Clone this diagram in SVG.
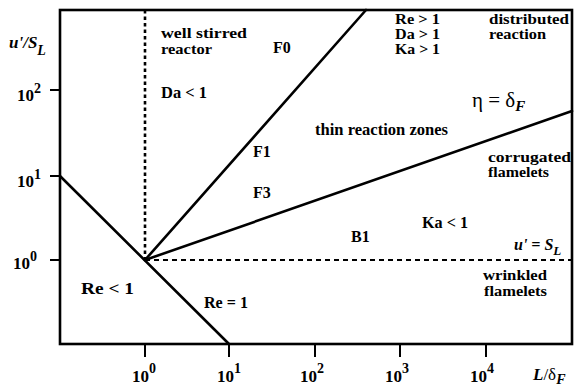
<svg xmlns="http://www.w3.org/2000/svg" width="579" height="386" viewBox="0 0 579 386">
<style>
.t{font-family:"Liberation Serif","Times New Roman",serif;font-weight:bold;font-size:16px;fill:#000}
.s{font-size:14.5px}
.ax{font-family:"Liberation Serif","Times New Roman",serif;font-weight:bold;font-size:17px;fill:#000}
.sup{font-size:14px}
.it{font-style:italic}
.ln{stroke:#000;stroke-width:2.6;fill:none;stroke-linecap:round}
.tk{stroke:#000;stroke-width:2;fill:none}
</style>
<rect width="579" height="386" fill="#fff"/>
<g id="frame">
<rect x="60" y="10" width="512" height="334" class="ln" stroke-linecap="butt"/>
<path class="tk" d="M50 90H60M50 176H60M50 260H60M145 344V357M229 344V357M315 344V357M400 344V357M486 344V357"/>
</g>
<g id="connectors">
<path class="ln" d="M60 176L229 344"/>
<path class="ln" d="M145 260L366 10"/>
<path class="ln" d="M145 260L572 111"/>
<path d="M145 10V260" stroke="#000" stroke-width="2.6" stroke-dasharray="3.5 3" fill="none"/>
<path d="M145 260H572" stroke="#000" stroke-width="2" stroke-dasharray="5 4" fill="none"/>
</g>
<g id="axis-labels">
<text class="ax it" x="9" y="48" font-size="19">u'/S<tspan font-size="14" dy="7">L</tspan></text>
<text class="ax" x="17" y="101">10<tspan class="sup" dy="-8">2</tspan></text>
<text class="ax" x="17" y="187">10<tspan class="sup" dy="-8">1</tspan></text>
<text class="ax" x="13" y="269">10<tspan class="sup" dy="-8">0</tspan></text>
<text class="ax" x="132" y="382">10<tspan class="sup" dy="-9">0</tspan></text>
<text class="ax" x="217" y="382">10<tspan class="sup" dy="-9">1</tspan></text>
<text class="ax" x="300" y="382">10<tspan class="sup" dy="-9">2</tspan></text>
<text class="ax" x="385" y="382">10<tspan class="sup" dy="-9">3</tspan></text>
<text class="ax" x="470" y="382">10<tspan class="sup" dy="-9">4</tspan></text>
<text class="ax" x="533" y="380" font-size="20"><tspan class="it">L</tspan><tspan font-weight="normal">/δ</tspan><tspan class="it" font-size="14" dy="4">F</tspan></text>
</g>
<g id="well-stirred">
<text class="t s" x="161" y="38" textLength="86" lengthAdjust="spacingAndGlyphs">well stirred</text>
<text class="t s" x="161" y="54" textLength="51" lengthAdjust="spacingAndGlyphs">reactor</text>
<text class="t" x="161" y="98" textLength="46" lengthAdjust="spacingAndGlyphs">Da &lt; 1</text>
</g>
<g id="F0"><text class="t" x="273" y="53">F0</text></g>
<g id="F1"><text class="t" x="253" y="157">F1</text></g>
<g id="F3"><text class="t" x="253" y="198">F3</text></g>
<g id="B1"><text class="t" x="351" y="242">B1</text></g>
<g id="conditions">
<text class="t s" x="395" y="24" textLength="45" lengthAdjust="spacingAndGlyphs">Re &gt; 1</text>
<text class="t s" x="395" y="39" textLength="45" lengthAdjust="spacingAndGlyphs">Da &gt; 1</text>
<text class="t s" x="395" y="54" textLength="45" lengthAdjust="spacingAndGlyphs">Ka &gt; 1</text>
</g>
<g id="distributed">
<text class="t s" x="489" y="24" textLength="80" lengthAdjust="spacingAndGlyphs">distributed</text>
<text class="t s" x="489" y="39" textLength="57" lengthAdjust="spacingAndGlyphs">reaction</text>
</g>
<g id="eta"><text x="472" y="107" font-family="Liberation Serif,serif" font-size="21">η = δ<tspan font-style="italic" font-weight="bold" font-size="15" dy="4">F</tspan></text></g>
<g id="thin"><text class="t" x="315" y="135" textLength="133" lengthAdjust="spacingAndGlyphs">thin reaction zones</text></g>
<g id="corrugated">
<text class="t s" x="488" y="162" textLength="83" lengthAdjust="spacingAndGlyphs">corrugated</text>
<text class="t s" x="488" y="177" textLength="61" lengthAdjust="spacingAndGlyphs">flamelets</text>
</g>
<g id="Ka"><text class="t" x="422" y="228" textLength="46" lengthAdjust="spacingAndGlyphs">Ka &lt; 1</text></g>
<g id="uSL"><text class="t it" x="514" y="250">u' = S<tspan font-size="13" dy="5">L</tspan></text></g>
<g id="wrinkled">
<text class="t s" x="483" y="280" textLength="64" lengthAdjust="spacingAndGlyphs">wrinkled</text>
<text class="t s" x="484" y="296" textLength="63" lengthAdjust="spacingAndGlyphs">flamelets</text>
</g>
<g id="Re-lt"><text class="t" x="81" y="294" textLength="53" lengthAdjust="spacingAndGlyphs">Re  &lt;  1</text></g>
<g id="Re-eq"><text class="t" x="204" y="308" textLength="44" lengthAdjust="spacingAndGlyphs">Re = 1</text></g>
</svg>
